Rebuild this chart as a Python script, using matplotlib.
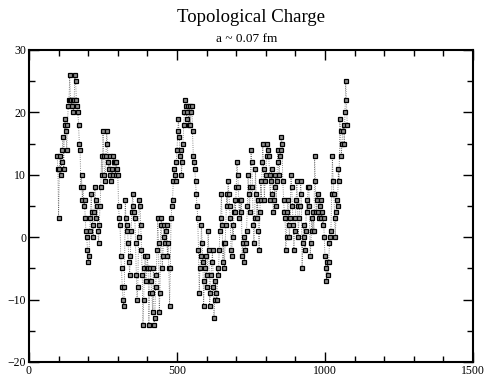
import numpy as np
import matplotlib.pyplot as plt
from matplotlib.ticker import MultipleLocator

# Monte Carlo time (every 2.5 sweeps from 95) and measured topological charge
start, step = 95, 2.5
charge = [
    13, 11, 3, 11, 13, 10, 12, 14, 16, 11, 18, 19, 17, 14, 18, 21, 22, 26, 22, 22,
    21, 22, 20, 22, 26, 25, 22, 21, 20, 18, 15, 14, 8, 10, 6, 8, 5, 6, 3, 1,
    0, -2, -4, -3, 1, 3, 7, 4, 2, 0, 4, 8, 6, 3, 5, 1, -1, 2, 5, 8,
    13, 10, 17, 13, 10, 9, 13, 17, 15, 12, 11, 13, 10, 9, 11, 10, 13, 12, 12, 10,
    12, 11, 10, 5, 3, 2, -3, -5, -8, -10, -11, -8, 6, 3, 1, 2, -1, -4, -6, -3,
    1, 4, 7, 5, 4, 3, -1, -6, -10, -8, 0, 6, 5, 2, -2, -6, -14, -10, -5, -3,
    -7, -5, -3, -5, -14, -9, -5, -7, -9, -12, -5, -14, -13, -8, -6, -2, 3, -1, -12, -9,
    2, 3, -5, -3, 2, 0, -1, 1, 2, -3, -1, -5, -11, -5, 3, 5, 6, 9, 11, 10,
    9, 12, 14, 17, 19, 16, 13, 14, 10, 12, 15, 18, 20, 22, 21, 19, 20, 21, 18, 21,
    18, 20, 21, 17, 13, 12, 11, 9, 7, 5, 3, -2, -9, -5, -3, 2, -1, -4, -11, -7,
    -5, -3, -8, -6, 1, -2, -11, -9, -6, -4, -2, -8, -13, -10, -7, -9, -10, -5, -6, -2,
    1, 3, 7, 2, -4, -1, -5, -1, 2, 7, 5, 9, 7, 5, 3, -2, -3, 2, 0, 4,
    6, 4, 8, 12, 10, 8, 3, 6, 4, 6, -3, -1, 0, -4, -2, -1, 1, 5, 10, 7,
    4, 8, 14, 12, 8, 2, -1, 3, 11, 7, 3, 6, 1, -2, 4, 9, 6, 12, 15, 11,
    6, 9, 10, 13, 15, 14, 13, 10, 6, 9, 11, 7, 4, 6, 8, 10, 5, 9, 14, 12,
    10, 13, 14, 16, 15, 9, 6, 4, 3, -2, 0, 4, 6, 2, 0, 3, 10, 8, 5, 2,
    -2, 1, 3, 6, 9, 5, 0, 3, 5, 9, 7, -5, -1, 2, 0, -2, 1, 6, 4, 8,
    8, 5, -3, -1, 3, 1, 4, 1, 13, 9, 4, 6, 7, 4, 3, 5, 6, 3, 4, 2,
    3, 0, -3, -5, -7, -4, -6, -4, -1, 0, 1, 7, 13, 9, 7, 3, 0, 4, 6, 5,
    11, 9, 19, 17, 13, 15, 17, 18, 15, 20, 25, 22, 18,
]
sweeps = start + step * np.arange(len(charge))

title = "Topological Charge"
subtitle = "a ~ 0.07 fm"

plt.rcParams['font.family'] = ['Liberation Serif', 'DejaVu Serif']

fig = plt.figure(figsize=(4.87, 3.78), dpi=100)
ax = fig.add_axes([29 / 487, 16 / 378, 444 / 487, 312 / 378])

ax.plot(sweeps, charge, linestyle=':', color='0.4', lw=0.6,
        marker='s', markersize=2.8, mfc='0.55', mec='black', mew=0.9)

ax.set_xlim(0, 1500)
ax.set_ylim(-20, 30)
ax.xaxis.set_major_locator(MultipleLocator(500))
ax.xaxis.set_minor_locator(MultipleLocator(100))
ax.yaxis.set_major_locator(MultipleLocator(10))
ax.yaxis.set_minor_locator(MultipleLocator(5))
ax.tick_params(which='both', direction='in', top=True, right=True,
               labelsize=8.5, width=1.0)
ax.tick_params(which='major', length=7, pad=2)
ax.tick_params(which='minor', length=4)
for s in ax.spines.values():
    s.set_linewidth(1.5)

fig.text(0.516, 0.955, title, ha='center', va='center', fontsize=13.5)
fig.text(0.506, 0.898, subtitle, ha='center', va='center', fontsize=9.5)

fig.savefig("out.png", dpi=100)
